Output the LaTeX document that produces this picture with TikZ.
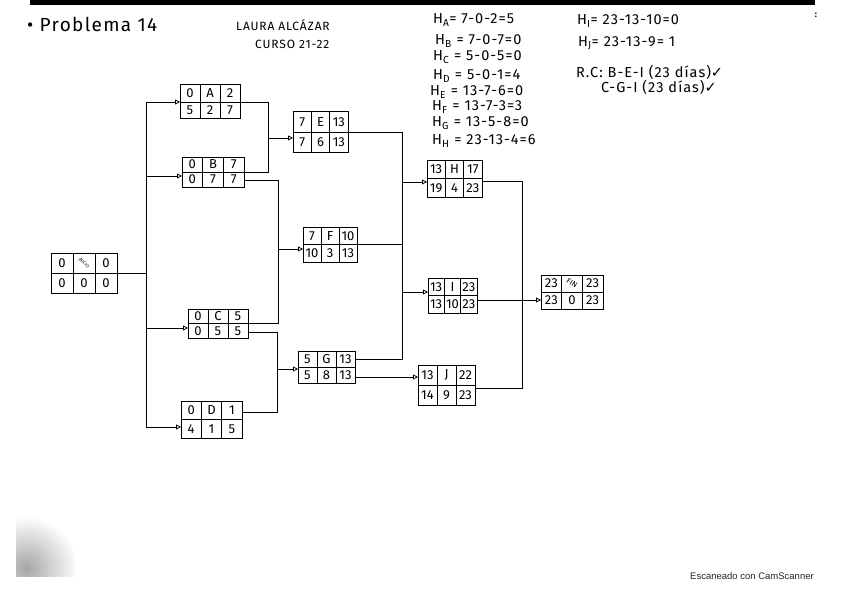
\documentclass[tikz,border=0pt]{standalone}
\usepackage{fontspec}
\usepackage{graphicx}
\setmainfont{Fira Sans}
\newfontfamily\hand[LetterSpace=7]{Fira Sans}
\newfontfamily\symf{DejaVu Sans}
\newfontfamily\scanf{Liberation Sans}
\usetikzlibrary{arrows.meta,calc}
\tikzset{
  actbox/.style={draw, line width=1pt, rectangle, inner sep=0pt, outer sep=0pt},
  cellrule/.style={line width=0.9pt},
  celltext/.style={font=\fontsize{13}{13}\selectfont, inner sep=0pt},
  conn/.style={line width=0.75pt},
  arr/.style={conn, -{Triangle[open, length=5pt, width=5pt]}},
  note/.style={font=\hand\fontsize{14.5}{14.5}\selectfont, inner sep=0pt, anchor=west},
}
\newcommand{\act}[8]{%
  \node[actbox, minimum width=#4pt, minimum height=#5pt] (#1) at (#2,#3) {};
  \draw[cellrule] (#1.west) -- (#1.east);
  \draw[cellrule] ($(#1.north west)!1/3!(#1.north east)$) -- ($(#1.south west)!1/3!(#1.south east)$);
  \draw[cellrule] ($(#1.north west)!2/3!(#1.north east)$) -- ($(#1.south west)!2/3!(#1.south east)$);
  \coordinate (#1-tl) at ({#2-#4/3},{#3-#5/4});
  \coordinate (#1-tm) at ({#2},{#3-#5/4});
  \coordinate (#1-tr) at ({#2+#4/3},{#3-#5/4});
  \coordinate (#1-bl) at ({#2-#4/3},{#3+#5/4});
  \coordinate (#1-bm) at ({#2},{#3+#5/4});
  \coordinate (#1-br) at ({#2+#4/3},{#3+#5/4});
  \node[celltext] (#1-ttl) at (#1-tl) {#6};
  \node[celltext] (#1-ttm) at (#1-tm) {#7};
  \node[celltext] (#1-ttr) at (#1-tr) {#8};
}
\newcommand{\actlow}[4]{%
  \node[celltext] (#1-tbl) at (#1-bl) {#2};
  \node[celltext] (#1-tbm) at (#1-bm) {#3};
  \node[celltext] (#1-tbr) at (#1-br) {#4};
}
\begin{document}
\begin{tikzpicture}[x=1pt,y=-1pt]
\useasboundingbox (0,0) rectangle (848,599);
\fill[white] (0,0) rectangle (848,599);
% scan band and marks
\fill[black] (30,0) rectangle (815,5);
\node[font=\bfseries\fontsize{9}{9}\selectfont, inner sep=0pt] (colon) at (816,15) {:};
\begin{scope}
  \clip (16,470) rectangle (75,576);
  \shade[inner color=black!35, outer color=white] (26,568) circle (52);
\end{scope}
% headings
\node[font=\hand\fontsize{19}{20}\selectfont, inner sep=0pt, anchor=west] (title) at (27,24) {• Problema 14};
\node[font=\hand\fontsize{12}{12}\selectfont, inner sep=0pt, anchor=west] (name) at (236,25) {LAURA ALCÁZAR};
\node[font=\hand\fontsize{12}{12}\selectfont, inner sep=0pt, anchor=west] (curso) at (255,44) {CURSO 21-22};
% slack calculations
\node[note] (ha) at (433,20) {H\textsubscript{A}= 7-0-2=5};
\node[note] (hb) at (435,41) {H\textsubscript{B} = 7-0-7=0};
\node[note] (hc) at (433,57) {H\textsubscript{C} = 5-0-5=0};
\node[note] (hd) at (433,76) {H\textsubscript{D} = 5-0-1=4};
\node[note] (he) at (430,92) {H\textsubscript{E} = 13-7-6=0};
\node[note] (hf) at (432,107) {H\textsubscript{F} = 13-7-3=3};
\node[note] (hg) at (432,123) {H\textsubscript{G} = 13-5-8=0};
\node[note] (hh) at (432,141) {H\textsubscript{H} = 23-13-4=6};
\node[note] (hi) at (577,21) {H\textsubscript{I}= 23-13-10=0};
\node[note] (hj) at (578,43) {H\textsubscript{J}= 23-13-9= 1};
\node[note] (rc1) at (576,72) {R.C: B-E-I (23 días){\symf ✓}};
\node[note] (rc2) at (601,87) {C-G-I (23 días){\symf ✓}};
% activity boxes
\act{S}{84}{273}{66}{40}{0}{\rotatebox{-40}{\fontsize{4.5}{4.5}\selectfont INICIO}}{0}\actlow{S}{0}{0}{0}
\act{A}{210}{102}{60}{34}{0}{A}{2}\actlow{A}{5}{2}{7}
\act{B}{213}{172}{62}{30}{0}{B}{7}\actlow{B}{0}{7}{7}
\act{C}{218}{323.5}{60}{29}{0}{C}{5}\actlow{C}{0}{5}{5}
\act{D}{211.5}{419.5}{61}{37}{0}{D}{1}\actlow{D}{4}{1}{5}
\act{E}{320.5}{132}{55}{40}{7}{E}{13}\actlow{E}{7}{6}{13}
\act{F}{330}{244.5}{54}{35}{7}{F}{10}\actlow{F}{10}{3}{13}
\act{G}{326.5}{367}{57}{32}{5}{G}{13}\actlow{G}{5}{8}{13}
\act{H}{454.5}{178.5}{55}{37}{13}{H}{17}\actlow{H}{19}{4}{23}
\act{I}{452.5}{295.5}{49}{35}{13}{I}{23}\actlow{I}{13}{10}{23}
\act{J}{446.5}{385}{57}{40}{13}{J}{22}\actlow{J}{14}{9}{23}
\act{FIN}{572}{292}{62}{34}{23}{\rotatebox{-30}{\fontsize{7.5}{7.5}\selectfont FIN}}{23}\actlow{FIN}{23}{0}{23}
% connectors
\coordinate (j0) at (146,273);
\draw[conn] (S.east) -- (j0);
\draw[arr] (j0) |- (A.west);
\draw[arr] (j0) |- ([yshift=-4pt]B.west);
\draw[arr] (j0) |- ([yshift=-4.5pt]C.west);
\draw[arr] (j0) |- ([yshift=-7.5pt]D.west);
\coordinate (jAB) at (268,138);
\draw[conn] (A.east) -| (jAB);
\draw[conn] (B.east) -| (jAB);
\draw[arr] (jAB) -- (jAB -| E.west);
\coordinate (jBC) at (278,249);
\draw[conn] ([yshift=-8pt]B.east) -| (jBC);
\draw[conn] ([yshift=0.5pt]C.east) -| (jBC);
\draw[arr] (jBC) -- (jBC -| F.west);
\coordinate (jCD) at (277,369);
\draw[conn] ([yshift=-9pt]C.east) -| (jCD);
\draw[conn] ([yshift=7.5pt]D.east) -| (jCD);
\draw[arr] (jCD) -- (jCD -| G.west);
\coordinate (jH) at (402,182);
\coordinate (jI) at (402,292);
\draw[conn] (E.east) -| (jI);
\draw[conn] (F.east) -| (jI);
\draw[conn] ([yshift=8pt]G.east) -| (jI);
\draw[arr] (jH) -- (jH -| H.west);
\draw[arr] (jI) -- (jI -| I.west);
\draw[arr] ([yshift=-10pt]G.east) -- ([yshift=-10pt]G.east -| J.west);
\coordinate (jF) at (522,300);
\draw[conn] ([yshift=-3pt]H.east) -| (jF);
\draw[conn] ([yshift=-3pt]J.east) -| (jF);
\draw[arr] ([yshift=-4.5pt]I.east) -- ([yshift=-4.5pt]I.east -| FIN.west);
% scanner watermark
\node[font=\scanf\fontsize{9.5}{10}\selectfont, text=black!85, inner sep=0pt, anchor=west] (scan) at (690,576) {Escaneado con CamScanner};
\end{tikzpicture}
\end{document}
